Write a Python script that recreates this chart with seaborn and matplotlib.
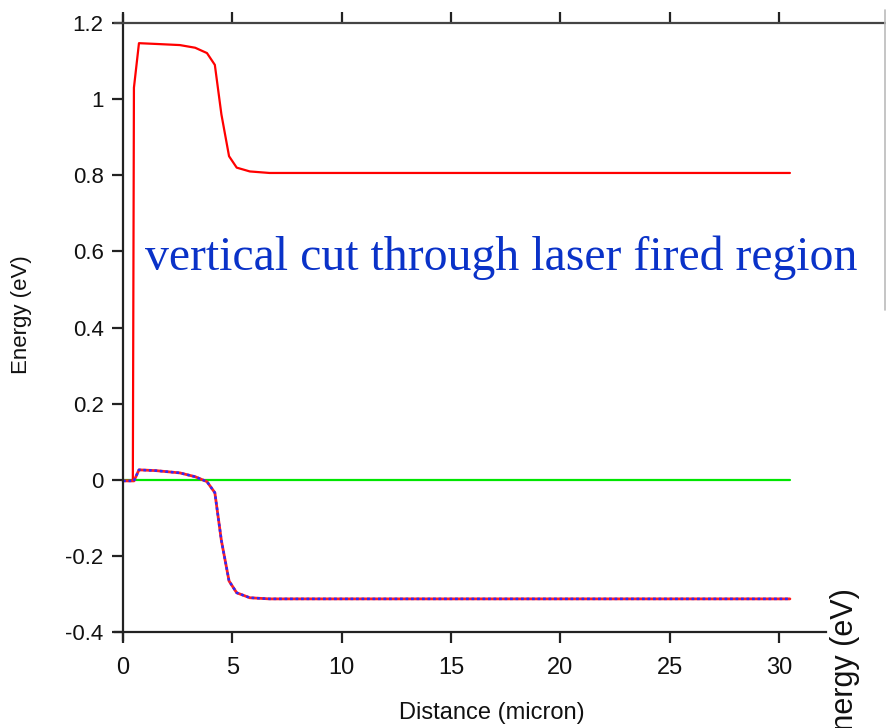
import matplotlib
matplotlib.use("Agg")
import matplotlib.pyplot as plt
import seaborn as sns
import pandas as pd
from matplotlib.lines import Line2D

# ---- data ----
ec_x = [0.0, 0.45, 0.50, 0.73, 1.5, 2.6, 3.3, 3.84, 4.2, 4.5, 4.85, 5.2, 5.8, 6.7, 10.0, 20.0, 30.5]
ec_y = [-0.003, -0.003, 1.03, 1.147, 1.145, 1.142, 1.135, 1.121, 1.09, 0.96, 0.85, 0.82, 0.81, 0.806, 0.806, 0.806, 0.806]

ev_x = [0.0, 0.50, 0.73, 1.5, 2.6, 3.3, 3.84, 4.2, 4.5, 4.85, 5.2, 5.8, 6.7, 10.0, 20.0, 30.5]
ev_y = [-0.003, -0.003, 0.026, 0.024, 0.018, 0.008, -0.005, -0.034, -0.16, -0.266, -0.297, -0.31, -0.313, -0.313, -0.313, -0.313]

ef_x = [0.0, 30.5]
ef_y = [0.0, 0.0]

x_ticks = [0, 5, 10, 15, 20, 25, 30]
y_ticks = [-0.4, -0.2, 0, 0.2, 0.4, 0.6, 0.8, 1.0, 1.2]
y_tick_labels = ["-0.4", "-0.2", "0", "0.2", "0.4", "0.6", "0.8", "1", "1.2"]

annotation = "vertical cut through laser fired region"

# ---- figure ----
sns.set_style("white")
plt.rcParams["font.family"] = ["Liberation Sans", "DejaVu Sans"]

W, H = 886, 728
fig = plt.figure(figsize=(W / 100, H / 100), dpi=100)
ax_l, ax_r, ax_t, ax_b = 115, 886, 15, 640
ax = fig.add_axes([ax_l / W, (H - ax_b) / H, (ax_r - ax_l) / W, (ax_b - ax_t) / H])

# pixel mapping: x=0 -> 123px, x=30 -> 779px ; y=1.2 -> 23px, y=-0.4 -> 632px
sx = (779 - 123) / 30.0
sy = (632 - 23) / 1.6
xmin = (ax_l - 123) / sx
xmax = (ax_r - 123) / sx
ymax = 1.2 + (23 - ax_t) / sy
ymin = -0.4 - (ax_b - 632) / sy

df_ec = pd.DataFrame({"x": ec_x, "y": ec_y})
df_ev = pd.DataFrame({"x": ev_x, "y": ev_y})
df_ef = pd.DataFrame({"x": ef_x, "y": ef_y})

sns.lineplot(data=df_ef, x="x", y="y", ax=ax, color="#00e600", linewidth=1.6, sort=False)
sns.lineplot(data=df_ec, x="x", y="y", ax=ax, color="#ff0000", linewidth=1.6, sort=False)
sns.lineplot(data=df_ev, x="x", y="y", ax=ax, color="#ff2020", linewidth=2.0, sort=False)
sns.lineplot(data=df_ev, x="x", y="y", ax=ax, color="#2a2aff", linewidth=1.8, sort=False,
             dashes=False, linestyle=(0, (1.1, 1.1)))

ax.set_xlim(xmin, xmax)
ax.set_ylim(ymin, ymax)

for s in ["left", "bottom", "top", "right"]:
    ax.spines[s].set_color("#222222")
    ax.spines[s].set_linewidth(1.6)
ax.spines["right"].set_visible(False)
ax.spines["left"].set_position(("data", 0))
ax.spines["bottom"].set_position(("data", -0.4))
ax.spines["top"].set_position(("data", 1.2))
ax.spines["bottom"].set_bounds(xmin, (826 - 123) / sx)
ax.spines["top"].set_color("#444444")

ax.set_xticks(x_ticks)
ax.set_yticks(y_ticks)
ax.set_yticklabels(y_tick_labels)
ax.tick_params(axis="both", direction="out", length=8, width=1.6, color="#222222")
ax.tick_params(axis="x", top=True, labeltop=False, bottom=True, pad=10)
ax.tick_params(axis="y", left=True, pad=6)
for lab in ax.get_yticklabels():
    lab.set_fontsize(16)
    lab.set_color("#111111")
for lab in ax.get_xticklabels():
    lab.set_family(["Liberation Sans Narrow", "Liberation Sans", "DejaVu Sans"])
    lab.set_fontsize(17)
    lab.set_color("#111111")

ax.set_xlabel("")
ax.set_ylabel("")
fig.text(492 / W, 1 - 713 / H, "Distance (micron)", ha="center", va="center",
         fontsize=17, family=["Liberation Sans Narrow", "Liberation Sans", "DejaVu Sans"], color="#111111")
fig.text(22 / W, 1 - 315 / H, "Energy (eV)", rotation=90, ha="center", va="center",
         fontsize=16, color="#111111")
# partial duplicate label cut off at the bottom right
fig.text(845 / W, 1 - 588 / H, "Energy (eV)", rotation=90, ha="center", va="top",
         fontsize=22, color="#111111")

ax.text((145 - 123) / sx, (479 - 257) / sy, annotation, ha="left", va="center",
        fontsize=34.4, color="#0a32c8", family=["Liberation Serif", "DejaVu Serif"])

# thin grey frame fragment at the right edge
fig.add_artist(Line2D([884.5 / W, 884.5 / W], [1 - 310 / H, 1 - 10 / H], color="#bbbbbb", linewidth=1.2))

fig.savefig("out.png", dpi=100)
